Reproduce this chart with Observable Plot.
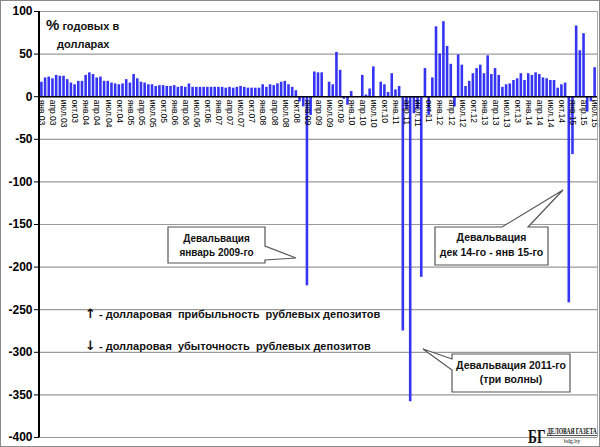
<!DOCTYPE html>
<html><head><meta charset="utf-8">
<script src="https://cdn.jsdelivr.net/npm/d3@7"></script>
<script src="https://cdn.jsdelivr.net/npm/@observablehq/plot@0.6"></script>
<style>
body{margin:0;background:#fff}
#chart svg{display:block;outline:1px solid #8a8a8a;outline-offset:-1px}
</style></head><body><div id="chart"></div>
<script>
// --- data ---
const monthNames = ["янв","фев","мар","апр","май","июн","июл","авг","сен","окт","ноя","дек"];
const years = ["03","04","05","06","07","08","09","10","11","12","13","14","15"];
const values2003_2005 = [17,22,23,21,25,24,24,20,16,14,18,18, 25,28,26,22,23,18,18,16,15,14,15,20, 16,26,21,17,16,14,14,12,13,13,12,12];
const values2006_2008 = [13,11,12,11,15,11,11,11,11,11,11,11, 11,11,10,11,10,11,12,11,10,10,10,10, 14,11,14,13,15,17,18,14,11,7,-6,-12];
const values2009_2011 = [-222,-22,29,28,28,0,17,14,52,31,-3,-10, 6,0,0,25,2,9,35,0,17,14,5,27, 8,12,-275,-15,-358,-20,-15,-212,33,-22,22,82];
const values2012_2014 = [50,88,59,38,-12,49,37,12,18,27,33,37, 27,48,26,33,25,11,14,15,19,21,27,19, 27,25,28,26,22,21,19,19,10,14,16,-242];
const values2015 = [-68,83,54,74,-18,-6,34];
const values = [...values2003_2005, ...values2006_2008, ...values2009_2011, ...values2012_2014, ...values2015];
const yTicks = [100,50,0,-50,-100,-150,-200,-250,-300,-350,-400];

const months = [];
for (const yy of years) for (const m of monthNames) months.push(`${m}.${yy}`);
const categories = months.slice(0, values.length);
const data = categories.map((month, i) => ({month, value: values[i]}));
const tickLabels = categories.filter((d, i) => i % 3 === 0);

const chart = Plot.plot({
  width: 600, height: 447,
  marginLeft: 39, marginRight: 3, marginTop: 11, marginBottom: 10,
  style: {fontFamily: "'Liberation Sans', Arial, sans-serif", background: "#fff", color: "#000"},
  x: {type: "band", domain: categories, padding: 0.3, axis: null},
  y: {domain: [-400, 100], axis: null},
  marks: [
    Plot.gridY(yTicks, {stroke: "#9a9a9a", strokeOpacity: 1, strokeWidth: 1.2}),
    Plot.barY(data, {x: "month", y: "value", fill: "#3434f2"}),
    Plot.ruleY([0], {stroke: "#000", strokeWidth: 1.5}),
    Plot.axisY(yTicks, {label: null, tickSize: 5, tickPadding: 2, fontSize: 12, fontWeight: "bold", tickFormat: d => String(d), stroke: "#000"}),
    Plot.text(tickLabels, {x: d => d, y: () => 0, text: d => d, rotate: 90, textAnchor: "start", dy: 3, fontSize: 8.5, fill: "#000"})
  ]
});
document.getElementById("chart").append(chart);

// --- decorations (layout only) ---
const svg = d3.select(chart);
const font = "'Liberation Sans', Arial, sans-serif";
// left axis line
svg.append("line").attr("x1", 39).attr("x2", 39).attr("y1", 11).attr("y2", 437)
  .attr("stroke", "#000").attr("stroke-width", 2);
svg.append("line").attr("x1", 597.5).attr("x2", 597.5).attr("y1", 11).attr("y2", 437)
  .attr("stroke", "#aaa").attr("stroke-width", 1);

const callouts = [
  {path: "M168,227H265V246L296,258L265,260V263H168Z", cx: 216.5, lines: [["Девальвация", 242], ["январь 2009-го", 256]], size: 10},
  {path: "M435,227H502L563,190L528,227H548V265H435Z", cx: 491.5, lines: [["Девальвация", 241], ["дек 14-го - янв 15-го", 256]], size: 10.5},
  {path: "M452,354H570V392H452V370L423,349L452,359Z", cx: 511, lines: [["Девальвация 2011-го", 369], ["(три волны)", 383]], size: 10.5}
];
for (const c of callouts) {
  svg.append("path").attr("d", c.path).attr("fill", "#fff").attr("stroke", "#555").attr("stroke-width", 1.2);
  for (const [t, y] of c.lines) {
    svg.append("text").attr("x", c.cx).attr("y", y).attr("text-anchor", "middle")
      .attr("font-family", font).attr("font-weight", "bold").attr("font-size", c.size).attr("fill", "#111").text(t);
  }
}

const notes = [["↑", " - долларовая  прибыльность  рублевых депозитов", 318], ["↓", " - долларовая  убыточность  рублевых депозитов", 350]];
for (const [arrow, t, y] of notes) {
  const tx = svg.append("text").attr("x", 85).attr("y", y).attr("text-anchor", "start").attr("font-family", font).attr("font-weight", "bold")
    .attr("font-size", 11).attr("fill", "#111").attr("xml:space", "preserve").style("white-space", "pre");
  tx.append("tspan").attr("font-family", "'DejaVu Sans', sans-serif").attr("font-size", 13).text(arrow);
  tx.append("tspan").text(t);
}

const title = svg.append("text").attr("x", 46).attr("y", 30).attr("text-anchor", "start").attr("font-family", font).attr("font-weight", "bold").attr("fill", "#111");
title.append("tspan").attr("font-size", 15).text("%");
title.append("tspan").attr("font-size", 11).text(" годовых в");
svg.append("text").attr("x", 57).attr("y", 48).attr("text-anchor", "start").attr("font-family", font).attr("font-weight", "bold")
  .attr("font-size", 11).attr("fill", "#111").text("долларах");

// logo
const serif = "'Liberation Serif', 'DejaVu Serif', serif";
svg.append("text").attr("transform", "translate(528,443) scale(1,1.45)").attr("text-anchor", "start").attr("font-family", serif).attr("font-weight", "bold")
  .attr("font-size", 13.5).attr("fill", "#111").text("БГ");
svg.append("text").attr("transform", "translate(547,434) scale(1,1.3)").attr("text-anchor", "start").attr("font-family", serif).attr("font-weight", "bold")
  .attr("font-size", 5.6).attr("fill", "#111").attr("text-decoration", "underline").text("ДЕЛОВАЯ ГАЗЕТА");
svg.append("text").attr("x", 572).attr("y", 443).attr("text-anchor", "middle").attr("font-family", serif)
  .attr("font-size", 6).attr("fill", "#111").text("bdg.by");
</script></body></html>
